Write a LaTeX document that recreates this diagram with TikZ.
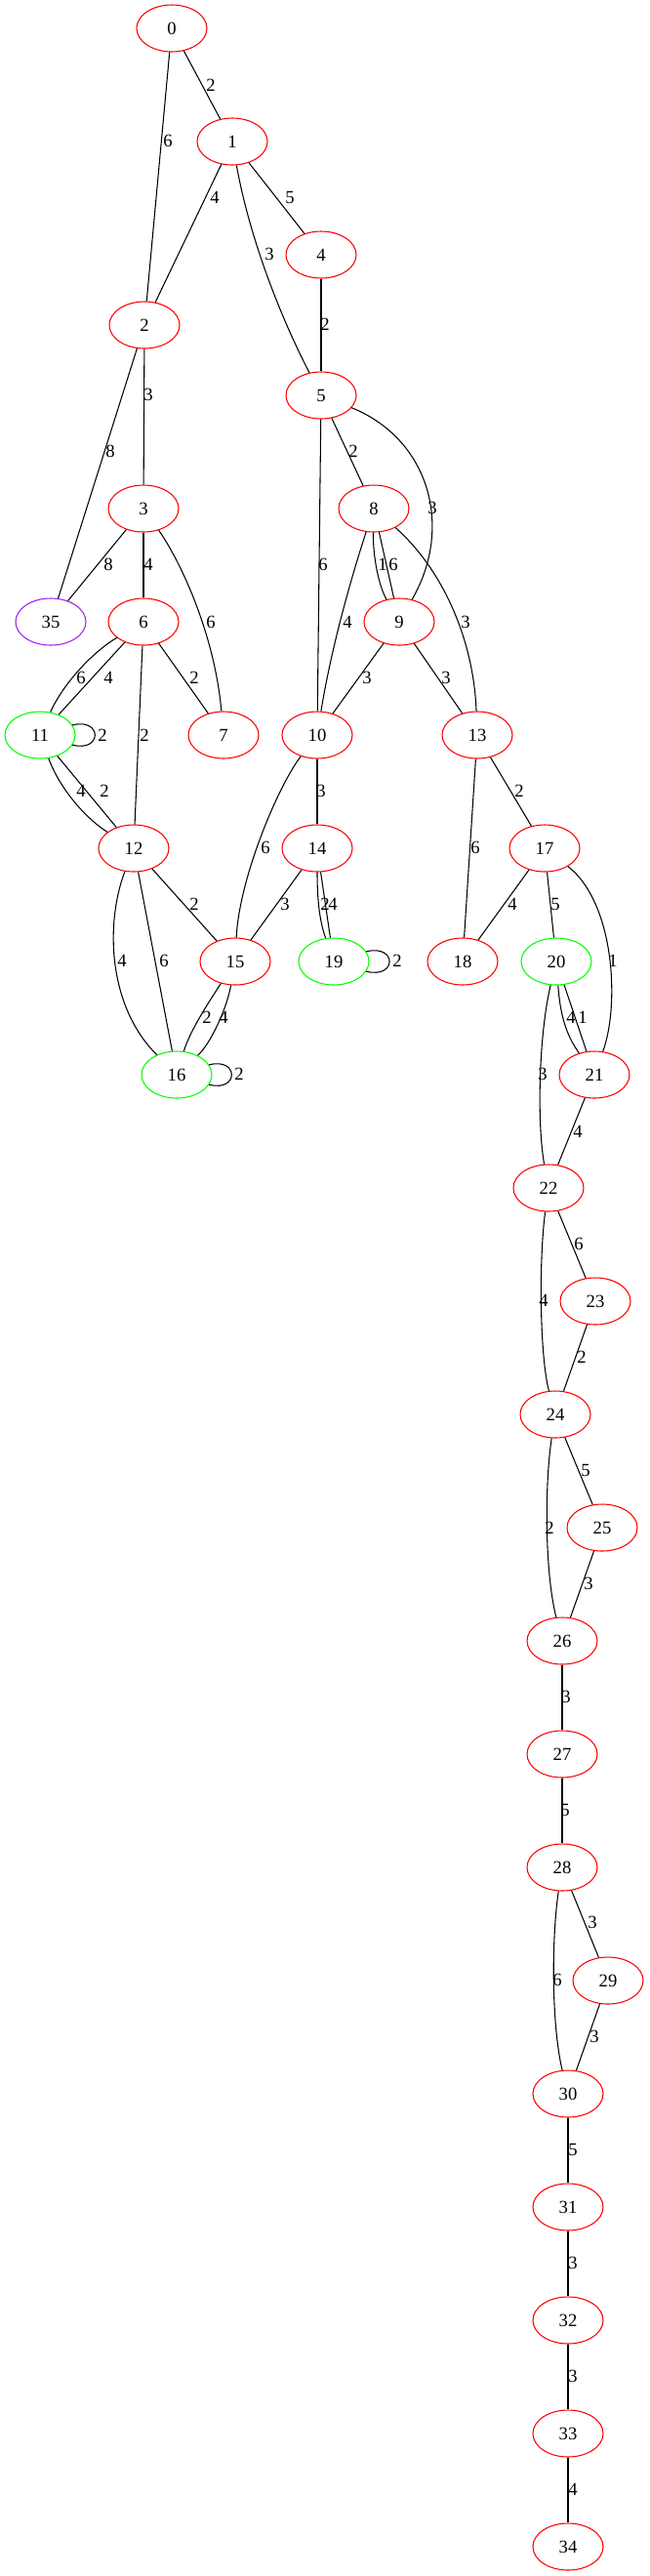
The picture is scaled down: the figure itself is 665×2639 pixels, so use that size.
\documentclass[tikz,border=0pt]{standalone}
\usepackage{fontspec}
\setmainfont{Liberation Serif}
\usetikzlibrary{shapes.geometric}
\definecolor{gvred}{HTML}{FF0000}
\definecolor{gvgreen}{HTML}{00FF00}
\definecolor{gvpurple}{HTML}{A020F0}
\tikzset{
  gnode/.style={ellipse, draw, line width=0.8pt, minimum width=54pt, minimum height=36pt, inner sep=0pt, font=\fontsize{14}{16}\selectfont},
  rnode/.style={gnode, draw=gvred},
  gnnode/.style={gnode, draw=gvgreen},
  pnode/.style={gnode, draw=gvpurple},
  elab/.style={inner sep=0pt, font=\fontsize{14}{16}\selectfont},
  edgeline/.style={line width=0.8pt, black}
}
\begin{document}
\begin{tikzpicture}[x=0.75pt,y=-0.75pt]
\path[use as bounding box] (0,0) rectangle (665,2639);
% nodes
\node[rnode] (n0) at (176,29) {0};
\node[rnode] (n1) at (238,145) {1};
\node[rnode] (n4) at (329,261) {4};
\node[rnode] (n2) at (148,333) {2};
\node[rnode] (n5) at (329,405) {5};
\node[rnode] (n3) at (147,521) {3};
\node[rnode] (n8) at (383,521) {8};
\node[pnode] (n35) at (52,637) {35};
\node[rnode] (n6) at (147,637) {6};
\node[rnode] (n9) at (409,637) {9};
\node[gnnode] (n11) at (41,753) {11};
\node[rnode] (n7) at (229,753) {7};
\node[rnode] (n10) at (325,753) {10};
\node[rnode] (n13) at (489,753) {13};
\node[rnode] (n12) at (137,869) {12};
\node[rnode] (n14) at (325,869) {14};
\node[rnode] (n17) at (558,869) {17};
\node[rnode] (n15) at (241,985) {15};
\node[gnnode] (n19) at (342,985) {19};
\node[rnode] (n18) at (474,985) {18};
\node[gnnode] (n20) at (570,985) {20};
\node[gnnode] (n16) at (181,1101) {16};
\node[rnode] (n21) at (609,1101) {21};
\node[rnode] (n22) at (562,1217) {22};
\node[rnode] (n23) at (610,1333) {23};
\node[rnode] (n24) at (569,1449) {24};
\node[rnode] (n25) at (617,1565) {25};
\node[rnode] (n26) at (576,1681) {26};
\node[rnode] (n27) at (576,1797) {27};
\node[rnode] (n28) at (576,1913) {28};
\node[rnode] (n29) at (623,2029) {29};
\node[rnode] (n30) at (582,2145) {30};
\node[rnode] (n31) at (582,2261) {31};
\node[rnode] (n32) at (582,2377) {32};
\node[rnode] (n33) at (582,2493) {33};
\node[rnode] (n34) at (582,2609) {34};
% edges
\begin{scope}[edgeline]
\draw (n0) -- (n1);
\draw (n0) -- (n2);
\draw (n1) -- (n2);
\draw (n1) -- (n4);
\draw (n1) .. controls (255,240) and (285,320) .. (n5);
\draw (n4) -- (n5);
\draw (n2) -- (n3);
\draw (n2) -- (n35);
\draw (n5) -- (n10);
\draw (n5) -- (n8);
\draw (n5) .. controls (440,450) and (465,540) .. (n9);
\draw (n3) -- (n35);
\draw (n3) -- (n6);
\draw (n3) .. controls (185,575) and (220,650) .. (n7);
\draw (n8) .. controls (382,570) and (388,600) .. (n9);
\draw (n8) -- (n9);
\draw (n8) .. controls (362,585) and (340,660) .. (n10);
\draw (n8) .. controls (450,580) and (485,650) .. (n13);
\draw (n6) .. controls (95,668) and (65,700) .. (n11);
\draw (n6) -- (n11);
\draw (n6) -- (n12);
\draw (n6) -- (n7);
\draw (n11.17) .. controls (105,735) and (105,771) .. (n11.-17);
\draw (n9) -- (n10);
\draw (n9) -- (n13);
\draw (n11) .. controls (62,810) and (90,840) .. (n12);
\draw (n11) -- (n12);
\draw (n10) .. controls (285,805) and (245,900) .. (n15);
\draw (n10) -- (n14);
\draw (n13) -- (n18);
\draw (n13) -- (n17);
\draw (n12) .. controls (108,945) and (110,1030) .. (n16);
\draw (n12) -- (n16);
\draw (n12) -- (n15);
\draw (n14) -- (n15);
\draw (n14) .. controls (325,925) and (328,945) .. (n19);
\draw (n14) -- (n19);
\draw (n17) -- (n18);
\draw (n17) -- (n20);
\draw (n17) .. controls (630,925) and (635,1030) .. (n21);
\draw (n15) .. controls (215,1025) and (195,1055) .. (n16);
\draw (n15) .. controls (232,1035) and (215,1070) .. (n16);
\draw (n16.17) .. controls (245,1083) and (245,1119) .. (n16.-17);
\draw (n19.17) .. controls (407,967) and (407,1003) .. (n19.-17);
\draw (n20) .. controls (574,1040) and (580,1060) .. (n21);
\draw (n20) -- (n21);
\draw (n20) .. controls (552,1060) and (550,1150) .. (n22);
\draw (n21) -- (n22);
\draw (n22) -- (n23);
\draw (n22) .. controls (552,1290) and (553,1390) .. (n24);
\draw (n23) -- (n24);
\draw (n24) -- (n25);
\draw (n24) .. controls (558,1520) and (558,1610) .. (n26);
\draw (n25) -- (n26);
\draw (n26) -- (n27);
\draw (n27) -- (n28);
\draw (n28) -- (n29);
\draw (n28) .. controls (565,1985) and (565,2075) .. (n30);
\draw (n29) -- (n30);
\draw (n30) -- (n31);
\draw (n31) -- (n32);
\draw (n32) -- (n33);
\draw (n33) -- (n34);
\end{scope}
% edge labels
\node[elab] (l0-1) at (216,87) {2};
\node[elab] (l0-2) at (172,144) {6};
\node[elab] (l1-2) at (220,202) {4};
\node[elab] (l1-4) at (297,202) {5};
\node[elab] (l1-5) at (276,260) {3};
\node[elab] (l4-5) at (333,332) {2};
\node[elab] (l2-3) at (152,404) {3};
\node[elab] (l2-35) at (113,462) {8};
\node[elab] (l5-8) at (362,462) {2};
\node[elab] (l5-10) at (331,578) {6};
\node[elab] (l5-9) at (443,520) {3};
\node[elab] (l3-35) at (111,578) {8};
\node[elab] (l3-6) at (152,578) {4};
\node[elab] (l3-7) at (216,637) {6};
\node[elab] (l8-9a) at (392,578) {1};
\node[elab] (l8-9b) at (403,578) {6};
\node[elab] (l8-10) at (356,637) {4};
\node[elab] (l8-13) at (477,637) {3};
\node[elab] (l6-11a) at (83,694) {6};
\node[elab] (l6-11b) at (111,694) {4};
\node[elab] (l6-7) at (199,694) {2};
\node[elab] (l6-12) at (148,753) {2};
\node[elab] (l11-11) at (105,753) {2};
\node[elab] (l9-10) at (376,694) {3};
\node[elab] (l9-13) at (457,694) {3};
\node[elab] (l11-12a) at (83,810) {4};
\node[elab] (l11-12b) at (107,810) {2};
\node[elab] (l10-14) at (329,810) {3};
\node[elab] (l10-15) at (272,868) {6};
\node[elab] (l13-17) at (532,810) {2};
\node[elab] (l13-18) at (487,868) {6};
\node[elab] (l12-15) at (199,926) {2};
\node[elab] (l14-15) at (292,926) {3};
\node[elab] (l14-19a) at (333,926) {2};
\node[elab] (l14-19b) at (341,926) {4};
\node[elab] (l12-16a) at (125,984) {4};
\node[elab] (l12-16b) at (168,984) {6};
\node[elab] (l15-16a) at (212,1042) {2};
\node[elab] (l15-16b) at (229,1042) {4};
\node[elab] (l16-16) at (245,1100) {2};
\node[elab] (l19-19) at (407,984) {2};
\node[elab] (l17-18) at (525,926) {4};
\node[elab] (l17-20) at (569,926) {5};
\node[elab] (l17-21) at (628,984) {1};
\node[elab] (l20-21a) at (585,1042) {4};
\node[elab] (l20-21b) at (597,1042) {1};
\node[elab] (l20-22) at (556,1100) {3};
\node[elab] (l21-22) at (592,1159) {4};
\node[elab] (l22-23) at (593,1274) {6};
\node[elab] (l22-24) at (557,1332) {4};
\node[elab] (l23-24) at (596,1390) {2};
\node[elab] (l24-25) at (600,1506) {5};
\node[elab] (l24-26) at (563,1565) {2};
\node[elab] (l25-26) at (603,1622) {3};
\node[elab] (l26-27) at (580,1738) {3};
\node[elab] (l27-28) at (579,1854) {5};
\node[elab] (l28-29) at (607,1969) {3};
\node[elab] (l28-30) at (571,2028) {6};
\node[elab] (l29-30) at (609,2086) {3};
\node[elab] (l30-31) at (587,2202) {5};
\node[elab] (l31-32) at (587,2318) {3};
\node[elab] (l32-33) at (587,2434) {3};
\node[elab] (l33-34) at (587,2550) {4};
\end{tikzpicture}
\end{document}
